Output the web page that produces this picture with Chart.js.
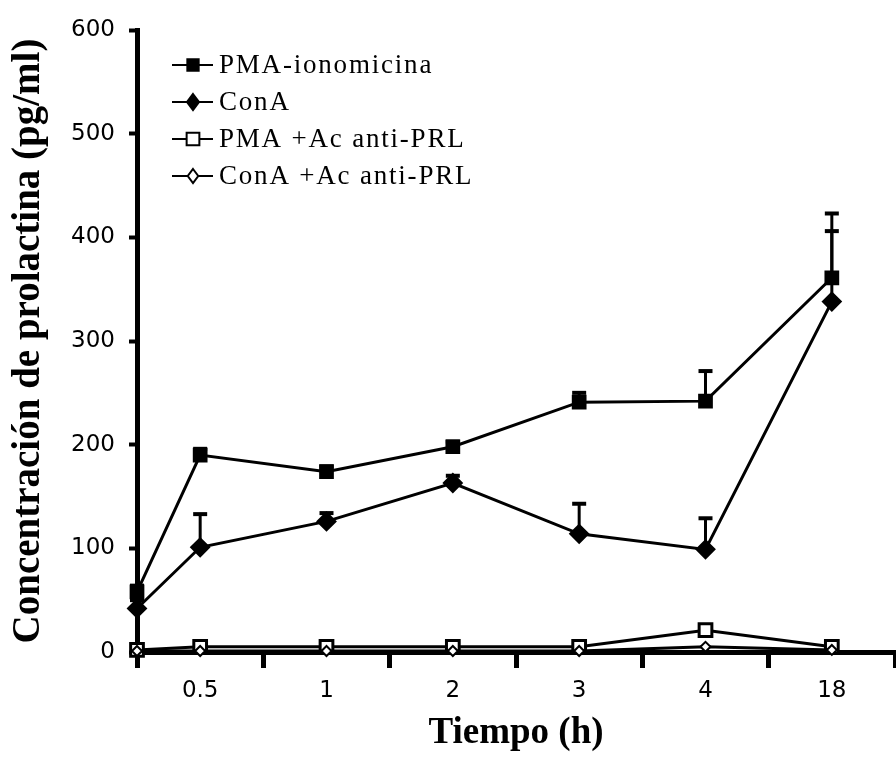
<!DOCTYPE html>
<html>
<head>
<meta charset="utf-8">
<script src="https://cdn.jsdelivr.net/npm/chart.js@4/dist/chart.umd.min.js"></script>
<style>
html,body{margin:0;padding:0;background:#fff;}
#c{display:block;}
</style>
</head>
<body>
<canvas id="c" width="896" height="758"></canvas>
<script>
// ---- data ----
const timeLabels = ['0', '0.5', '1', '2', '3', '4', '18'];
const seriesNames = ['PMA-ionomicina', 'ConA', 'PMA +Ac anti-PRL', 'ConA +Ac anti-PRL'];
const pmaValues     = [58, 190, 174, 198, 241, 242, 361];
const pmaErrors     = [6, 6, 5, 5, 9, 29, 62];
const conaValues    = [42, 101, 126, 163, 114, 99, 338];
const conaErrors    = [8, 32, 8, 7, 29, 30, 68];
const pmaAbValues   = [2, 5, 5, 5, 5, 21, 5];
const conaAbValues  = [1, 1, 1, 1, 1, 5, 2];
const yTicks = [0, 100, 200, 300, 400, 500, 600];

// category position on the axis: time 0 sits on the y axis, others at slot centres
const xPos = timeLabels.map((t, i) => i === 0 ? 0 : i - 0.5);
const toPoints = vals => vals.map((v, i) => ({x: xPos[i], y: v}));

const styles = [
  {pointStyle: 'rect',    fill: '#000', radius: 9, bw: 2, lr: 5},
  {pointStyle: 'rectRot', fill: '#000', radius: 9, bw: 2, lr: 5},
  {pointStyle: 'rect',    fill: '#fff', radius: 9, bw: 3, lr: 6},
  {pointStyle: 'rectRot', fill: '#fff', radius: 5, bw: 2, lr: 4}
];
const valueSets = [pmaValues, conaValues, pmaAbValues, conaAbValues];
const errorSets = [pmaErrors, conaErrors, null, null];

const datasets = valueSets.map((vals, k) => ({
  label: seriesNames[k],
  data: toPoints(vals),
  errors: errorSets[k],
  borderColor: '#000',
  borderWidth: 3,
  pointStyle: styles[k].pointStyle,
  pointRadius: styles[k].radius,
  pointBackgroundColor: styles[k].fill,
  pointBorderColor: '#000',
  pointBorderWidth: styles[k].bw,
  clip: false,
  order: 3 - k
}));

const errorBars = {
  id: 'errorBars',
  beforeDatasetsDraw(chart) {
    const ctx = chart.ctx, ys = chart.scales.y;
    ctx.save();
    ctx.strokeStyle = '#000';
    chart.data.datasets.forEach((ds, di) => {
      if (!ds.errors) return;
      const meta = chart.getDatasetMeta(di);
      meta.data.forEach((pt, i) => {
        const e = ds.errors[i];
        if (!e) return;
        const yTop = ys.getPixelForValue(ds.data[i].y + e);
        ctx.lineWidth = 3;
        ctx.beginPath(); ctx.moveTo(pt.x, pt.y); ctx.lineTo(pt.x, yTop); ctx.stroke();
        ctx.lineWidth = 4;
        ctx.beginPath(); ctx.moveTo(pt.x - 7, yTop); ctx.lineTo(pt.x + 7, yTop); ctx.stroke();
      });
    });
    ctx.restore();
  }
};

function drawMarker(ctx, style, cx, cy, r, fill, bw) {
  ctx.beginPath();
  if (style === 'rect') {
    const s = r * Math.SQRT1_2;
    ctx.rect(cx - s, cy - s, 2 * s, 2 * s);
  } else {
    ctx.moveTo(cx, cy - r); ctx.lineTo(cx + r * 0.75, cy); ctx.lineTo(cx, cy + r); ctx.lineTo(cx - r * 0.75, cy); ctx.closePath();
  }
  ctx.fillStyle = fill; ctx.fill();
  ctx.lineWidth = bw; ctx.strokeStyle = '#000'; ctx.stroke();
}

const customLegend = {
  id: 'customLegend',
  afterDraw(chart) {
    const ctx = chart.ctx;
    ctx.save();
    chart.data.datasets.forEach((ds, k) => {
      const y = 65 + k * 37;
      ctx.strokeStyle = '#000'; ctx.lineWidth = 2;
      ctx.beginPath(); ctx.moveTo(172, y); ctx.lineTo(213, y); ctx.stroke();
      drawMarker(ctx, styles[k].pointStyle, 193, y, styles[k].lr + 3, styles[k].fill, 2);
      ctx.fillStyle = '#000';
      ctx.font = '27px "Liberation Serif"';
      ctx.letterSpacing = '1.8px';
      ctx.textBaseline = 'middle';
      ctx.textAlign = 'left';
      ctx.fillText(ds.label, 219, y + 1);
    });
    ctx.restore();
  }
};

new Chart(document.getElementById('c'), {
  type: 'line',
  data: {datasets},
  options: {
    responsive: false,
    animation: false,
    layout: {autoPadding: false, padding: {top: 30, right: 1, left: 0, bottom: 0}},
    plugins: {legend: {display: false}, tooltip: {enabled: false}},
    scales: {
      x: {
        type: 'linear',
        min: 0, max: 6,
        afterFit(s) { s.height = 106; s.paddingRight = 0; s.paddingLeft = 0; },
        afterBuildTicks(s) { s.ticks = []; for (let v = 0; v <= 12; v++) s.ticks.push({value: v / 2}); },
        ticks: {
          autoSkip: false, maxRotation: 0, padding: 9, color: '#000',
          font: {family: '"DejaVu Sans"', size: 23},
          callback: v => (v % 1 === 0.5) ? timeLabels[v + 0.5] : ''
        },
        grid: {
          drawOnChartArea: false, tickLength: 16, tickWidth: 5,
          tickColor: c => (c.tick && c.tick.value % 1 === 0) ? '#000' : 'rgba(0,0,0,0)'
        },
        border: {display: true, color: '#000', width: 5},
        title: {
          display: true, text: 'Tiempo (h)', color: '#000',
          font: {family: '"Liberation Serif"', size: 37, weight: 'bold'},
          padding: {top: 0, bottom: 2}
        }
      },
      y: {
        min: 0, max: 600,
        afterFit(s) { s.width = 137; },
        afterBuildTicks(s) { s.ticks = yTicks.map(v => ({value: v})); },
        ticks: {
          padding: 14, color: '#000',
          font: {family: '"DejaVu Sans"', size: 23}
        },
        grid: {drawOnChartArea: false, tickLength: 8, tickWidth: 4, tickColor: '#000'},
        border: {display: true, color: '#000', width: 5},
        title: {
          display: true, text: 'Concentración de prolactina (pg/ml)', color: '#000',
          font: {family: '"Liberation Serif"', size: 39, weight: 'bold'},
          padding: {top: 6, bottom: 0}
        }
      }
    }
  },
  plugins: [errorBars, customLegend]
});
</script>
</body>
</html>
